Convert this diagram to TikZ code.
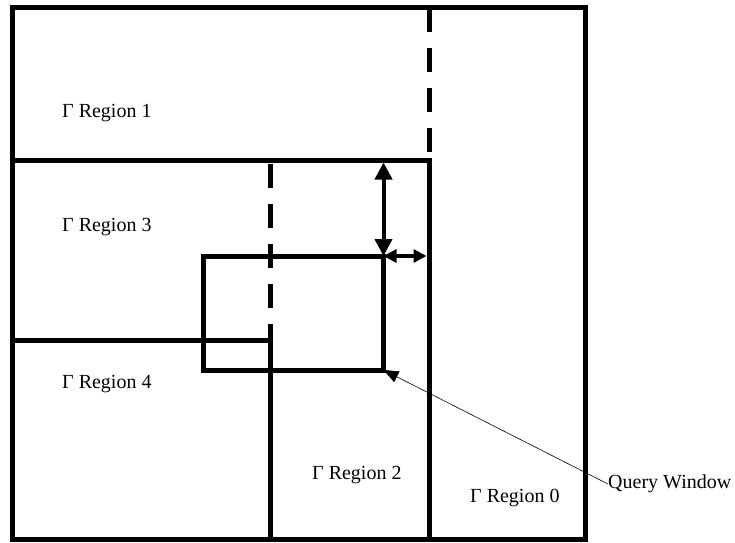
\documentclass[tikz,border=0pt]{standalone}
\usepackage{fontspec}
\setmainfont{Liberation Serif}
\usetikzlibrary{arrows.meta}

\tikzset{
    wall/.style={line width=5pt},
    cut/.style={line width=5pt, dash pattern=on 24pt off 16pt},
    gap/.style={line width=4pt, {Triangle[length=17pt,width=17pt]}-{Triangle[length=17pt,width=17pt]}},
    smallgap/.style={line width=4pt, {Triangle[length=13pt,width=13pt]}-{Triangle[length=13pt,width=13pt]}},
    pointer/.style={line width=0.6pt, {Triangle[length=15pt,width=12pt]}-},
    regtext/.style={font=\fontsize{20}{24}\selectfont, anchor=west, inner sep=0pt}
}

\begin{document}
\begin{tikzpicture}[x=1pt, y=-1pt]
    \useasboundingbox (0,0) rectangle (735,542);

    % Outer boundary
    \draw[wall] (12.5,7.5) rectangle (585,539.5);

    % Split lines of the partition
    \draw[cut] (429,8) -- (429,160);
    \draw[wall] (429,158) -- (429,539);
    \draw[wall] (12,160) -- (431.5,160);
    \draw[cut] (270.5,164) -- (270.5,340);
    \draw[wall] (270.5,338) -- (270.5,539);
    \draw[wall] (12,340) -- (273,340);

    % Query window
    \draw[wall] (203,256) rectangle (383.5,370);
    \coordinate (qw-ne) at (383.5,256);
    \coordinate (qw-se) at (383.5,370);
    \coordinate (top-edge) at (383.5,162.5);
    \coordinate (right-edge) at (426.5,256);

    % Distances from the window to the split lines
    \draw[gap] (top-edge) -- (qw-ne);
    \draw[smallgap] (qw-ne) -- (right-edge);

    % Region labels
    \node[regtext] (r1) at (62,113) {Γ Region 1};
    \node[regtext] (r3) at (62,227) {Γ Region 3};
    \node[regtext] (r4) at (62,384) {Γ Region 4};
    \node[regtext] (r2) at (312,475) {Γ Region 2};
    \node[regtext] (r0) at (470,498) {Γ Region 0};
    \node[regtext] (qlabel) at (608,484) {Query Window};

    \draw[pointer] (qw-se) -- (qlabel.west);
\end{tikzpicture}
\end{document}
